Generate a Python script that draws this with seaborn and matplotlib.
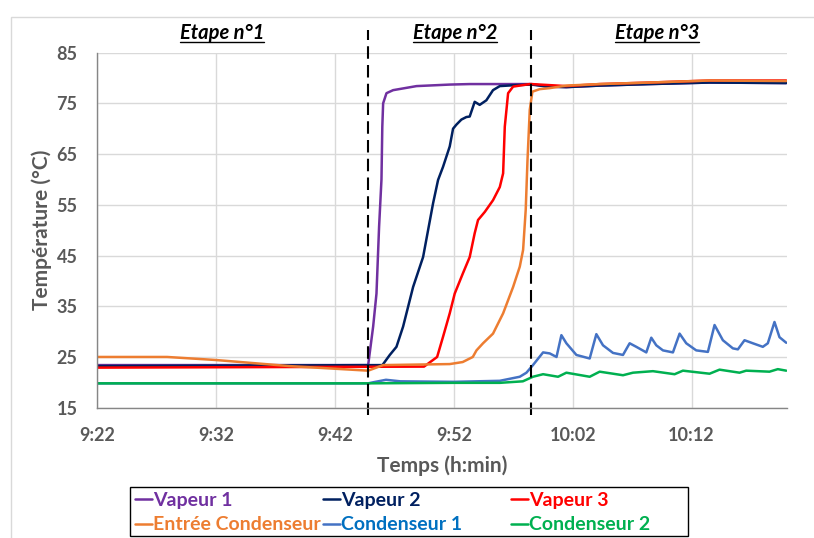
import numpy as np
import pandas as pd
import seaborn as sns
import matplotlib.pyplot as plt
from matplotlib.lines import Line2D
from matplotlib.patches import Rectangle

# temps en minutes depuis 9:22
t_v1 = [0, 22.8, 23.22, 23.5, 23.72, 23.92, 23.99, 24.06, 24.34, 24.9, 26.87, 29.66, 31.34, 36.53, 37.9, 39.47, 42.27, 46.47, 51.51, 57.96]
v1 = [23.4, 23.4, 31.0, 37.5, 50.7, 60.0, 70.4, 75.0, 77.0, 77.6, 78.4, 78.7, 78.8, 78.8, 78.3, 78.2, 78.5, 78.8, 79.1, 79.0]

t_v2 = [0, 24.0, 24.62, 25.18, 25.74, 26.58, 27.42, 28.26, 28.68, 29.1, 29.66, 29.94, 30.22, 30.64, 31.06, 31.34, 31.76, 32.18, 32.74, 33.3, 33.87, 35.27, 36.53, 37.9, 39.47, 42.27, 46.47, 51.51, 57.96]
v2 = [23.2, 23.4, 25.4, 27.0, 31.0, 38.8, 44.7, 55.3, 59.9, 62.5, 66.5, 70.0, 70.8, 71.8, 72.3, 72.4, 75.3, 74.7, 75.6, 77.6, 78.4, 78.6, 78.7, 78.3, 78.2, 78.5, 78.8, 79.1, 79.0]

t_v3 = [0, 27.5, 28.6, 29.1, 29.66, 30.08, 30.77, 31.34, 31.76, 32.04, 32.61, 33.3, 33.87, 34.15, 34.29, 34.57, 34.99, 36.39, 36.53, 38.0, 39.47, 42.27, 46.47, 51.51, 57.96]
v3 = [22.9, 23.1, 25.0, 29.0, 33.6, 37.5, 41.5, 44.7, 49.4, 52.0, 53.6, 55.9, 58.5, 61.2, 70.4, 77.0, 78.3, 78.8, 78.8, 78.6, 78.4, 78.8, 79.1, 79.5, 79.5]

t_ec = [0, 5.9, 10.0, 16.2, 22.8, 24.06, 29.66, 30.75, 31.6, 31.91, 32.46, 33.3, 34.15, 34.99, 35.55, 35.83, 36.05, 36.2, 36.39, 36.61, 37.23, 38.07, 39.47, 42.27, 46.47, 51.51, 57.96]
ec = [25.0, 25.0, 24.4, 23.2, 22.3, 23.4, 23.6, 24.0, 25.0, 26.3, 27.7, 29.6, 33.6, 38.8, 42.8, 46.1, 54.0, 63.8, 73.7, 77.3, 77.8, 78.0, 78.5, 78.8, 79.1, 79.5, 79.4]

t_c1 = [0, 22.8, 23.2, 24.3, 25.5, 30.0, 33.87, 35.55, 36.11, 36.66, 37.51, 38.07, 38.64, 39.05, 39.47, 40.31, 41.43, 41.99, 42.55, 43.39, 44.23, 44.79, 45.35, 46.19, 46.61, 47.03, 47.59, 48.43, 48.99, 49.55, 50.39, 51.37, 51.93, 52.63, 53.47, 53.89, 54.45, 55.15, 55.99, 56.41, 56.97, 57.39, 57.96]
c1 = [19.8, 19.8, 20.0, 20.5, 20.2, 20.1, 20.3, 21.1, 21.9, 23.4, 25.9, 25.7, 25.0, 29.3, 27.7, 25.4, 24.7, 29.5, 27.3, 25.8, 25.4, 27.7, 27.0, 25.9, 28.8, 27.3, 26.3, 25.9, 29.6, 27.7, 26.3, 26.0, 31.3, 28.3, 26.7, 26.5, 28.3, 27.7, 27.0, 27.7, 31.9, 28.9, 27.8]

t_c2 = [0, 22.8, 30.0, 33.87, 35.81, 36.66, 37.51, 38.77, 39.47, 41.43, 42.27, 44.23, 45.07, 46.75, 48.57, 49.27, 51.51, 52.35, 54.03, 54.59, 56.55, 57.25, 57.96]
c2 = [19.8, 19.8, 19.9, 19.9, 20.2, 21.1, 21.6, 21.1, 21.9, 21.1, 22.1, 21.4, 21.9, 22.2, 21.6, 22.3, 21.7, 22.5, 21.9, 22.3, 22.1, 22.6, 22.3]

series = [
    ("Vapeur 1", t_v1, v1, "#7030A0", "#7030A0"),
    ("Vapeur 2", t_v2, v2, "#002060", "#002060"),
    ("Vapeur 3", t_v3, v3, "#FF0000", "#FF0000"),
    ("Entrée Condenseur", t_ec, ec, "#ED7D31", "#ED7D31"),
    ("Condenseur 1", t_c1, c1, "#4472C4", "#0070C0"),
    ("Condenseur 2", t_c2, c2, "#00B050", "#00B050"),
]

tick_pos = [0, 10, 20, 30, 40, 50]
tick_labels = ["9:22", "9:32", "9:42", "9:52", "10:02", "10:12"]
etapes = ["Etape n°1", "Etape n°2", "Etape n°3"]
etape_pos = [10.5, 30.1, 47.1]
limites = [22.8, 36.5]

sns.set_style("white")
plt.rcParams['font.family'] = ['Lato', 'DejaVu Sans']
grey = "#595959"

W, H = 814, 538
fig = plt.figure(figsize=(W / 100, H / 100), dpi=100)
ax = fig.add_axes([0.1192, 0.2422, 0.8473, 0.66])

# cadre du graphique
fig.patches.append(Rectangle((0.013, -0.01), 0.99, 0.978, transform=fig.transFigure,
                             fill=False, edgecolor="#D9D9D9", linewidth=1))

for name, t, v, col, tcol in series:
    df = pd.DataFrame({"t": t, "v": v})
    sns.lineplot(data=df, x="t", y="v", color=col, linewidth=1.8, ax=ax,
                 sort=False, estimator=None)

ax.set_xlim(0, 58)
ax.set_ylim(15, 85)
ax.set_yticks(range(15, 86, 10))
ax.set_xticks(tick_pos)
ax.set_xticklabels(tick_labels)
ax.grid(True, color="#D9D9D9", linewidth=1)
ax.set_axisbelow(True)
for s in ["top", "right"]:
    ax.spines[s].set_visible(False)
for s in ["left", "bottom"]:
    ax.spines[s].set_color("#868686")
    ax.spines[s].set_linewidth(1)
ax.tick_params(length=0, labelsize=13, labelcolor=grey)
for lab in ax.get_xticklabels() + ax.get_yticklabels():
    lab.set_fontweight("bold")
ax.tick_params(axis="x", pad=14)
ax.tick_params(axis="y", pad=14)
ax.set_xlabel("Temps (h:min)", fontsize=15, fontweight="bold", color=grey, labelpad=8)
ax.set_ylabel("Température (°C)", fontsize=15, fontweight="bold", color=grey, labelpad=3)

for xl in limites:
    ax.plot([xl, xl], [-0.02, 1.065], color="black", linewidth=1.5,
            linestyle=(0, (6, 3)), transform=ax.get_xaxis_transform(), clip_on=False)

title_texts = []
for lab, xp in zip(etapes, etape_pos):
    tx = ax.text(xp, 1.055, lab, transform=ax.get_xaxis_transform(), ha="center", va="center",
                 fontsize=14.5, fontweight="bold", fontstyle="italic", color="black")
    title_texts.append(tx)

# légende (3 colonnes de même largeur, comme dans Excel)
fig.patches.append(Rectangle((130 / W, 1 - 536 / H), 558 / W, 49 / H, transform=fig.transFigure,
                             fill=False, edgecolor="black", linewidth=1))
for i, (name, t, v, col, tcol) in enumerate(series):
    r, c = divmod(i, 3)
    x0 = 135 + c * 188
    yc = 1 - (499 + r * 24.5) / H
    fig.add_artist(Line2D([x0 / W, (x0 + 17) / W], [yc, yc], color=col, linewidth=1.8,
                          transform=fig.transFigure))
    fig.text((x0 + 18) / W, yc, name, color=tcol, fontsize=14, fontweight="bold",
             ha="left", va="center_baseline")

# soulignement des titres
fig.canvas.draw()
rend = fig.canvas.get_renderer()
for tx in title_texts:
    bb = tx.get_window_extent(rend)
    y = (bb.y0 + 1) / H
    fig.add_artist(Line2D([bb.x0 / W, bb.x1 / W], [y, y], color="black", linewidth=1,
                          transform=fig.transFigure))

plt.savefig("out.png", dpi=100)
